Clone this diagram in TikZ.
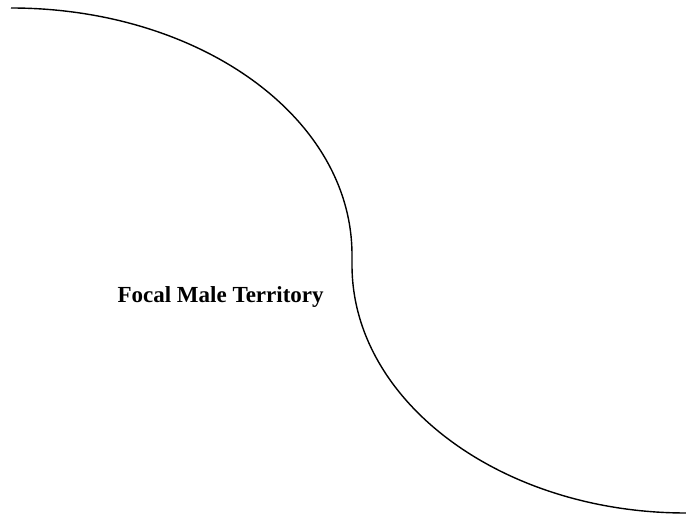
\documentclass[tikz,border=0pt]{standalone}
\usepackage{fontspec}
\setmainfont{Liberation Serif}
\usepackage{tikz}
\usetikzlibrary{positioning}
\tikzset{
    boundary_style/.style={
        draw=black,           % line colour
        line width=1.4pt      % line width
    },
    label_style/.style={
        font=\bfseries\fontsize{23}{27}\selectfont, % bold serif label
        anchor=west
    }
}
\begin{document}
\begin{tikzpicture}[x=1pt,y=-1pt]
    % 1. page frame
    \useasboundingbox (0,0) rectangle (686,518);
    % 2. points of the territory boundary
    \coordinate (top) at (11,8);
    \coordinate (midA) at (352,255);
    \coordinate (midB) at (352,265);
    \coordinate (bottom) at (686,513);
    % 3. boundary line
    \draw[boundary_style] (top) .. controls (199,8) and (352,117) .. (midA)
        -- (midB) .. controls (352,402) and (502,513) .. (bottom);
    % 4. label
    \node[label_style] (focal) at (114,297) {Focal Male Territory};
\end{tikzpicture}
\end{document}
